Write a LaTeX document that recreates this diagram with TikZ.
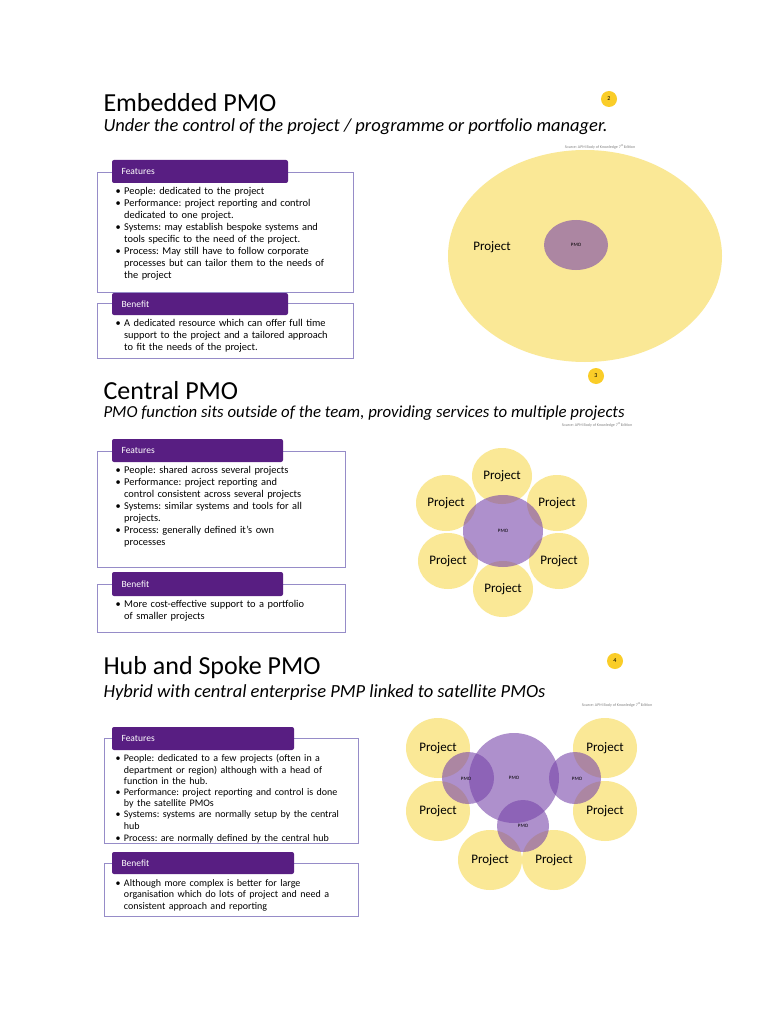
\documentclass[tikz,border=0pt]{standalone}
\usepackage{fontspec}
\setmainfont{Carlito}
\frenchspacing
\begin{document}
\begin{tikzpicture}[x=1pt,y=-1pt,
  yel/.style={fill={rgb,255:red,250;green,232;blue,150}},
  pmo/.style={fill={rgb,255:red,120;green,70;blue,170},fill opacity=0.6},
  hdr/.style={fill={rgb,255:red,88;green,30;blue,130},rounded corners=2pt},
  frame/.style={draw={rgb,255:red,150;green,140;blue,200},line width=0.7pt},
  hdrtxt/.style={text=white,font=\fontsize{9.5}{11}\selectfont,anchor=west},
  body/.style={anchor=north west,align=left,font=\fontsize{10.4}{12}\selectfont,text width=#1},
  ttl/.style={anchor=west,font=\fontsize{26}{28}\selectfont},
  sub/.style={anchor=west,font=\fontsize{18.5}{20}\selectfont\itshape},
  src/.style={font=\fontsize{4}{5}\selectfont,text=gray},
  badge/.style={circle,fill={rgb,255:red,250;green,205;blue,40},inner sep=0pt,minimum size=16pt,font=\fontsize{6}{7}\selectfont},
  plbl/.style={font=\fontsize{13}{14}\selectfont},
  slbl/.style={font=\fontsize{5}{6}\selectfont}]
\useasboundingbox (0,0) rectangle (768,1024);
\fill[white] (0,0) rectangle (768,1024);
% ===== Section 1
\node[ttl] (t1) at (100,103) {Embedded PMO};
\node[sub] (s1) at (100,127) {Under the control of the project / programme or portfolio manager.};
\node[badge] (b1) at (609,99) {2};
\node[src] (r1) at (600,147) {Source: APM Body of Knowledge 7\textsuperscript{th}Edition};
\draw[frame] (97,172) rectangle (353,292);
\fill[hdr] (112,160) rectangle (288,183);
\node[hdrtxt] (h1) at (118,171.5) {Features};
\node[body=232pt] (f1) at (112,184) {\textbullet\ People: dedicated to the project\\
\textbullet\ Performance: project reporting and control\\\hphantom{\textbullet\ }dedicated to one project.\\
\textbullet\ Systems: may establish bespoke systems and\\\hphantom{\textbullet\ }tools specific to the need of the project.\\
\textbullet\ Process: May still have to follow corporate\\\hphantom{\textbullet\ }processes but can tailor them to the needs of\\\hphantom{\textbullet\ }the project};
\draw[frame] (97,303) rectangle (353,358);
\fill[hdr] (112,293) rectangle (288,315);
\node[hdrtxt] (h2) at (118,304) {Benefit};
\node[body=232pt] (g1) at (112,316) {\textbullet\ A dedicated resource which can offer full time\\\hphantom{\textbullet\ }support to the project and a tailored approach\\\hphantom{\textbullet\ }to fit the needs of the project.};
\fill[yel] (585,256) ellipse [x radius=137,y radius=106];
\node[plbl] (p1) at (492,247) {Project};
\fill[pmo] (576,245) ellipse [x radius=32,y radius=25];
\node[slbl] (m1) at (576,245) {PMO};
% ===== Section 2
\node[ttl] (t2) at (100,391) {Central PMO};
\node[sub,font=\fontsize{16.8}{20}\selectfont\itshape] (s2) at (100,413) {PMO function sits outside of the team, providing services to multiple projects};
\node[badge] (b2) at (596,376) {3};
\node[src] (r2) at (597,425) {Source: APM Body of Knowledge 7\textsuperscript{th}Edition};
\draw[frame] (97,451) rectangle (345,567);
\fill[hdr] (112,439) rectangle (283,462);
\node[hdrtxt] (h3) at (118,450.5) {Features};
\node[body=228pt] (f2) at (112,463) {\textbullet\ People: shared across several projects\\
\textbullet\ Performance: project reporting and\\\hphantom{\textbullet\ }control consistent across several projects\\
\textbullet\ Systems: similar systems and tools for all\\\hphantom{\textbullet\ }projects.\\
\textbullet\ Process: generally defined it's own\\\hphantom{\textbullet\ }processes};
\draw[frame] (97,584) rectangle (345,632);
\fill[hdr] (112,572) rectangle (283,596);
\node[hdrtxt] (h4) at (118,584) {Benefit};
\node[body=228pt] (g2) at (112,597) {\textbullet\ More cost-effective support to a portfolio\\\hphantom{\textbullet\ }of smaller projects};
\foreach \n/\x/\y in {a/502/476,b/446/503,c/557/503,d/448/561,e/559/561,f/503/589}{
  \fill[yel] (\x,\y) ellipse [x radius=30,y radius=28];
  \node[plbl] (c\n) at (\x,\y) {Project};
}
\fill[pmo] (503,531) ellipse [x radius=40,y radius=36];
\node[slbl] (m2) at (503,531) {PMO};
% ===== Section 3
\node[ttl] (t3) at (100,668) {Hub and Spoke PMO};
\node[sub] (s3) at (100,693) {Hybrid with central enterprise PMP linked to satellite PMOs};
\node[badge] (b3) at (615,661) {4};
\node[src] (r3) at (617,705) {Source: APM Body of Knowledge 7\textsuperscript{th}Edition};
\draw[frame] (104,738) rectangle (358,843);
\fill[hdr] (112,727) rectangle (294,750);
\node[hdrtxt] (h5) at (118,738.5) {Features};
\node[body=240pt] (f3) at (112,751) {\fontsize{10}{11.2}\selectfont\textbullet\ People: dedicated to a few projects (often in a\\\hphantom{\textbullet\ }department or region) although with a head of\\\hphantom{\textbullet\ }function in the hub.\\
\textbullet\ Performance: project reporting and control is done\\\hphantom{\textbullet\ }by the satellite PMOs\\
\textbullet\ Systems: systems are normally setup by the central\\\hphantom{\textbullet\ }hub\\
\textbullet\ Process: are normally defined by the central hub};
\draw[frame] (104,863) rectangle (358,916);
\fill[hdr] (112,852) rectangle (294,874);
\node[hdrtxt] (h6) at (118,863) {Benefit};
\node[body=240pt] (g3) at (112,876) {\fontsize{10}{11.2}\selectfont\textbullet\ Although more complex is better for large\\\hphantom{\textbullet\ }organisation which do lots of project and need a\\\hphantom{\textbullet\ }consistent approach and reporting};
\foreach \n/\x/\y in {a/438/748,b/605/748,c/438/811,d/605/811,e/490/860,f/554/860}{
  \fill[yel] (\x,\y) ellipse [x radius=32,y radius=30];
}
\fill[pmo] (514,778) circle (45);
\fill[pmo] (468,778) circle (26);
\fill[pmo] (575,778) circle (26);
\fill[pmo] (523,826) circle (26);
\foreach \n/\x/\y in {a/438/748,b/605/748,c/438/811,d/605/811,e/490/860,f/554/860}{
  \node[plbl] (q\n) at (\x,\y) {Project};
}
\node[slbl] (n0) at (514,778) {PMO};
\node[slbl] (n1) at (466,779) {PMO};
\node[slbl] (n2) at (577,779) {PMO};
\node[slbl] (n3) at (523,826) {PMO};
\end{tikzpicture}
\end{document}
